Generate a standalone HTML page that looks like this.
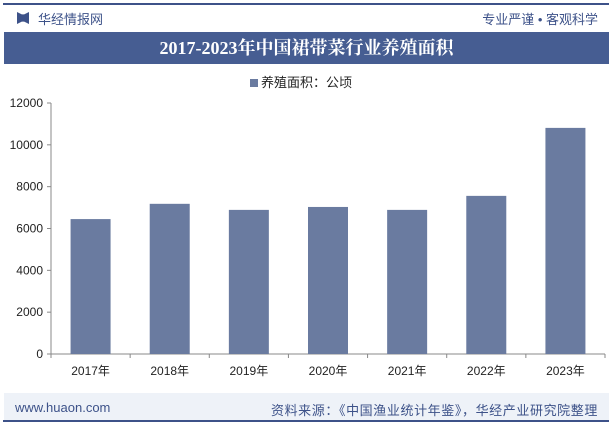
<!DOCTYPE html>
<html><head><meta charset="utf-8"><style>
body{margin:0;width:612px;height:426px;background:#fff;font-family:"Liberation Sans","Noto Sans CJK SC",sans-serif;position:relative;overflow:hidden}
.abs{position:absolute}
</style></head><body>
<div class="abs" style="left:3px;top:3px;width:606px;height:2px;background:#3d5289"></div>
<div class="abs" style="left:17px;top:12px;width:12px;height:12px;background:#3d5289;clip-path:polygon(0 0,40% 20%,60% 20%,100% 0,100% 100%,60% 80%,40% 80%,0 100%)"></div>
<div class="abs" style="left:38px;top:9px;font-size:13px;color:#3d5289">华经情报网</div>
<div class="abs" style="right:14px;top:9px;font-size:13px;color:#3d5289">专业严谨 • 客观科学</div>
<div class="abs" style="left:4px;top:32px;width:605px;height:32px;background:#465d92;color:#fff;font-family:'Liberation Serif','Noto Serif CJK SC',serif;font-weight:bold;font-size:18px;text-align:center;line-height:32px">2017-2023年中国裙带菜行业养殖面积</div>
<div class="abs" style="left:250px;top:72px;font-size:13px;color:#222"><span style="display:inline-block;width:8px;height:8px;background:#6a7ba0;margin-right:3px"></span>养殖面积：公顷</div>
<svg class="abs" style="left:0;top:0" width="612" height="426" id="chart"></svg>
<div class="abs" style="left:4px;top:393px;width:605px;height:27px;background:#eef2f8"></div>
<div class="abs" style="left:3px;top:420px;width:606px;height:2px;background:#3d5289"></div>
<div class="abs" style="left:15px;top:400px;font-size:13px;color:#3d5289">www.huaon.com</div>
<div class="abs" style="right:14px;top:400px;font-size:13px;letter-spacing:0.6px;color:#3d5289">资料来源：《中国渔业统计年鉴》，华经产业研究院整理</div>
<script>
const categories=["2017年","2018年","2019年","2020年","2021年","2022年","2023年"];
const values=[6450,7180,6890,7030,6890,7560,10810];
const ticks=[0,2000,4000,6000,8000,10000,12000];
const svg=document.getElementById('chart');const NS='http://www.w3.org/2000/svg';
const x0=51,x1=605,y0=354,y1=103,ymax=12000;
const band=(x1-x0)/categories.length;
const y=v=>y0-(v/ymax)*(y0-y1);
function mk(t,a){const e=document.createElementNS(NS,t);for(const k in a)e.setAttribute(k,a[k]);svg.appendChild(e);return e;}
ticks.forEach(t=>{const l=mk('line',{x1:x0-4,x2:x0,y1:y(t),y2:y(t),stroke:'#888'});


const tx=mk('text',{x:x0-8,y:y(t)+4,'text-anchor':'end','font-size':12,fill:'#222'});tx.textContent=t;

});
const ya=mk('line',{x1:x0,x2:x0,y1:y1,y2:y0,stroke:'#888'});


const xa=mk('line',{x1:x0,x2:x1,y1:y0,y2:y0,stroke:'#888'});


categories.forEach((c,i)=>{const cx=x0+band*(i+.5);
const r=mk('rect',{x:cx-20,y:y(values[i]),width:40,height:y0-y(values[i]),fill:'#6a7ba0'});


const tk=mk('line',{x1:x0+band*i,x2:x0+band*i,y1:y0,y2:y0+4,stroke:'#888'});


const t=mk('text',{x:cx,y:375,'text-anchor':'middle','font-size':12,fill:'#222'});t.textContent=c;

});
mk('line',{x1:x1,x2:x1,y1:y0,y2:y0+4,stroke:'#888'});
</script>
</body></html>
